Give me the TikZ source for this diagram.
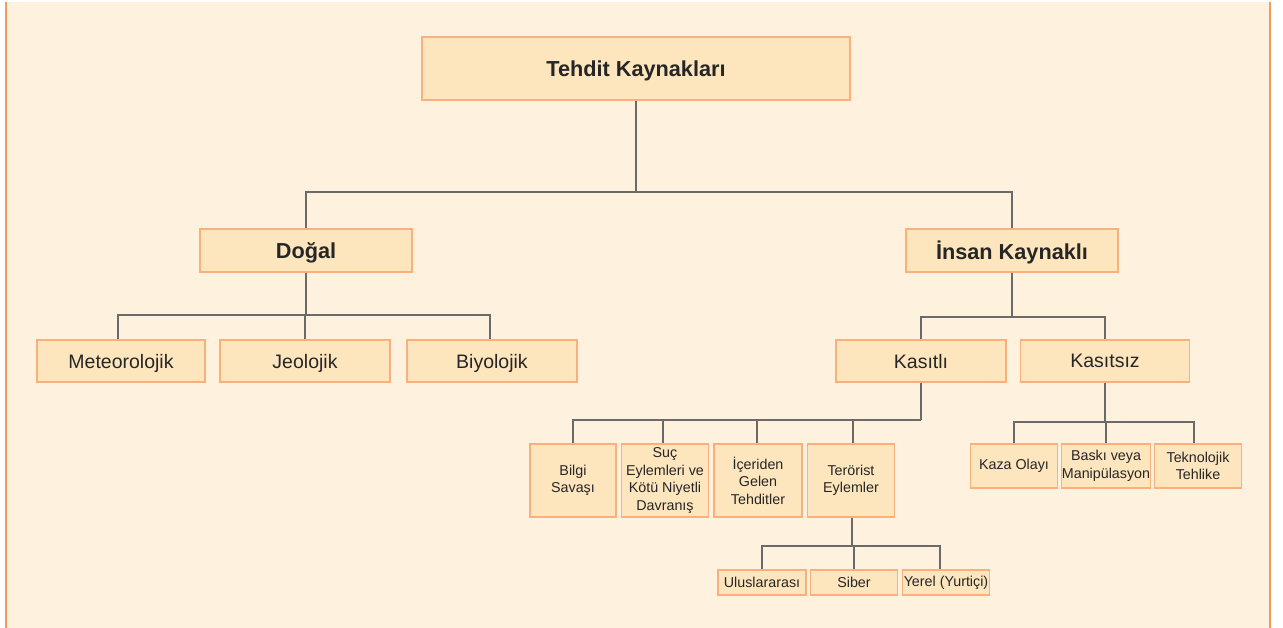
\documentclass[tikz,border=0pt]{standalone}
\usepackage{fontspec}
\setmainfont{Liberation Sans}
\definecolor{bgc}{HTML}{FEF2DF}
\definecolor{boxfill}{HTML}{FDE5BE}
\definecolor{boxline}{HTML}{F9B07C}
\definecolor{edgeline}{HTML}{F49A5A}
\definecolor{conn}{HTML}{6A6A6A}
\tikzset{
  box/.style={draw=boxline, fill=boxfill, line width=1.2pt, inner sep=0pt, align=center, text=black!85},
  big/.style={box, font=\fontsize{21.7}{25}\selectfont\bfseries, text depth=0pt},
  mid/.style={box, font=\fontsize{19.5}{23}\selectfont, text depth=0pt},
  small/.style={box, font=\fontsize{14.3}{17.5}\selectfont},
  link/.style={draw=conn, line width=1.9pt},
}
\begin{document}
\begin{tikzpicture}[x=1pt,y=-1pt]
\useasboundingbox (0,0) rectangle (1283,628);
\fill[white] (0,0) rectangle (1283,628);
\fill[bgc] (6,2) rectangle (1270,628);
\draw[edgeline, line width=1.5pt] (6,2) -- (6,628);
\draw[edgeline, line width=1.5pt] (1270,2) -- (1270,628);

% nodes
\node[big, minimum width=428, minimum height=63] (top) at (636,68.5) {Tehdit Kaynakları};
\node[big, minimum width=212, minimum height=43] (dogal) at (306,250.5) {Doğal};
\node[big, minimum width=212, minimum height=43] (insan) at (1012,250.5) {İnsan Kaynaklı};

\node[mid, minimum width=168, minimum height=42] (met) at (121,361) {Meteorolojik};
\node[mid, minimum width=170, minimum height=42] (jeo) at (305,361) {Jeolojik};
\node[mid, minimum width=170, minimum height=42] (biy) at (492,361) {Biyolojik};
\node[mid, minimum width=170, minimum height=42] (kas) at (921,361) {Kasıtlı};
\node[mid, minimum width=169, minimum height=42] (kass) at (1105,361) {Kasıtsız};

\node[small, minimum width=86, minimum height=73] (bilgi) at (573,480.5) {Bilgi\\Savaşı};
\node[small, minimum width=87, minimum height=73] (suc) at (665,480.5) {Suç\\Eylemleri ve\\Kötü Niyetli\\Davranış};
\node[small, minimum width=88, minimum height=73] (ice) at (758,480.5) {İçeriden\\Gelen\\Tehditler};
\node[small, minimum width=87, minimum height=73] (ter) at (851,480.5) {Terörist\\Eylemler};

\node[small, minimum width=87, minimum height=44] (kaza) at (1014,466) {Kaza Olayı};
\node[small, minimum width=87, minimum height=44] (bask) at (1106,466) {Baskı veya\\Manipülasyon};
\node[small, minimum width=87, minimum height=44] (tek) at (1198,466) {Teknolojik\\Tehlike};

\node[small, minimum width=88, minimum height=25] (ulu) at (762,582.5) {Uluslararası};
\node[small, minimum width=87, minimum height=25] (sib) at (854,582.5) {Siber};
\node[small, minimum width=87, minimum height=25] (yer) at (946,582.5) {Yerel (Yurtiçi)};

% connectors
\coordinate (j0) at (636,192);
\draw[link] (top.south) -- (j0);
\draw[link] (dogal.north) |- (j0) -| (insan.north);

\coordinate (j1) at (306,315);
\draw[link] (dogal.south) -- (j1);
\draw[link] (met.north -| 118,0) |- (j1) -| (biy.north -| 490,0);
\draw[link] (jeo.north) -- (jeo.north |- j1);

\coordinate (j2) at (1012,317);
\draw[link] (insan.south) -- (j2);
\draw[link] (kas.north) |- (j2) -| (kass.north);

\coordinate (j3) at (921,420);
\draw[link] (kas.south) -- (j3);
\draw[link] (bilgi.north) |- (j3);
\draw[link] ([xshift=-2pt]suc.north) -- ([xshift=-2pt]suc.north |- j3);
\draw[link] ([xshift=-1pt]ice.north) -- ([xshift=-1pt]ice.north |- j3);
\draw[link] ([xshift=2pt]ter.north) -- ([xshift=2pt]ter.north |- j3);

\coordinate (j4) at (1105,422);
\draw[link] (kass.south) -- (j4);
\draw[link] (kaza.north) |- (j4) -| ([xshift=-4pt]tek.north);
\draw[link] (bask.north |- j4) -- (bask.north);

\coordinate (j5) at (852,546);
\draw[link] ([xshift=1pt]ter.south) -- (j5);
\draw[link] (ulu.north) |- (j5) -| ([xshift=-6pt]yer.north);
\draw[link] (sib.north |- j5) -- (sib.north);
\end{tikzpicture}
\end{document}
